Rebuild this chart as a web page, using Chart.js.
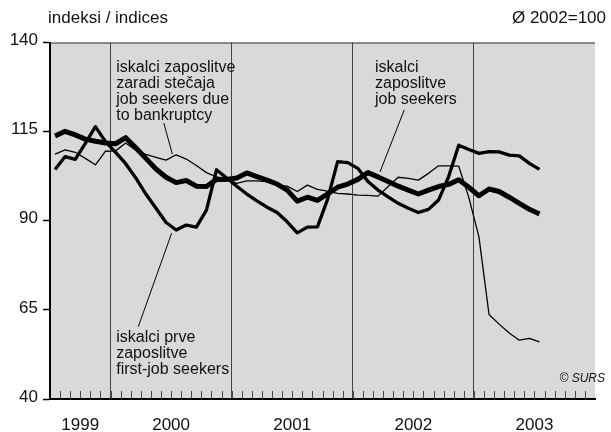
<!DOCTYPE html>
<html>
<head>
<meta charset="utf-8">
<title>Iskalci zaposlitve - indeksi</title>
<script src="https://cdn.jsdelivr.net/npm/chart.js"></script>
<style>
    body { margin: 0; padding: 0; background: #fff; }
    #wrap { width: 611px; height: 432px; }
</style>
</head>
<body>
<div id="wrap"><canvas id="chart"></canvas></div>
<script>
    // meseci (od julija 1999 do julija 2003)
    var months = [
        '1999-07','1999-08','1999-09','1999-10','1999-11','1999-12',
        '2000-01','2000-02','2000-03','2000-04','2000-05','2000-06','2000-07','2000-08','2000-09','2000-10','2000-11','2000-12',
        '2001-01','2001-02','2001-03','2001-04','2001-05','2001-06','2001-07','2001-08','2001-09','2001-10','2001-11','2001-12',
        '2002-01','2002-02','2002-03','2002-04','2002-05','2002-06','2002-07','2002-08','2002-09','2002-10','2002-11','2002-12',
        '2003-01','2003-02','2003-03','2003-04','2003-05','2003-06','2003-07'
    ];
    var years = ['1999', '2000', '2001', '2002', '2003'];
    var yTicks = [40, 65, 90, 115, 140];
    var axisStart = '1999-07';
    var axisMonths = 54; // do konca 2003

    // iskalci zaposlitve / job seekers
    var jobSeekers = [
        113.8, 115.1, 114.1, 112.9, 112.3, 111.8,
        111.6, 113.3, 110.5, 107.5, 104.5, 102.2, 100.7, 101.3, 99.7, 99.6, 101.6, 101.6,
        102.0, 103.4, 102.4, 101.4, 100.3, 98.6, 95.5, 96.6, 95.7, 97.5, 99.4, 100.3,
        101.6, 103.5, 102.3, 101.0, 99.7, 98.6, 97.5, 98.6, 99.6, 100.2, 101.5, 99.4,
        97.0, 98.9, 98.2, 96.6, 94.9, 93.2, 91.9
    ];
    // iskalci prve zaposlitve / first-job seekers
    var firstJob = [
        104.4, 108.0, 107.2, 111.7, 116.4, 112.2,
        109.2, 106.0, 102.0, 97.5, 93.5, 89.5, 87.4, 88.8, 88.2, 93.0, 104.3, 102.0,
        99.7, 97.5, 95.6, 93.8, 92.3, 89.7, 86.6, 88.2, 88.3, 96.0, 106.6, 106.3,
        104.7, 101.0, 98.6, 96.7, 94.9, 93.5, 92.3, 93.2, 95.8, 102.4, 111.2, 110.0,
        108.9, 109.4, 109.3, 108.4, 108.2, 106.1, 104.4
    ];
    // iskalci zaposlitve zaradi stecaja / job seekers due to bankruptcy
    var bankruptcy = [
        108.7, 109.9, 109.2, 107.5, 105.7, 109.5,
        109.6, 111.8, 109.8, 108.6, 107.8, 107.0, 108.5, 107.3, 105.5, 103.5, 102.3, 101.8,
        100.5, 101.2, 101.2, 101.0, 100.0, 99.7, 98.2, 100.0, 98.8, 98.3, 97.7, 97.5,
        97.2, 97.1, 96.9, 99.6, 102.2, 101.9, 101.4, 103.3, 105.4, 105.4, 105.3, 96.5,
        85.5, 63.7, 61.0, 58.5, 56.5, 57.0, 56.0
    ];

    function monthIndex(s) {
        var a = s.split('-'), b = axisStart.split('-');
        return (+a[0] - +b[0]) * 12 + (+a[1] - +b[1]);
    }
    function toPoints(values) {
        return values.map(function (v, i) { return { x: monthIndex(months[i]) + 0.5, y: v }; });
    }

    // meje let in sredine let na osi x
    var yearBounds = {}, yearMid = {};
    years.forEach(function (y) {
        var s = Math.max(0, monthIndex(y + '-01'));
        var e = Math.min(axisMonths, monthIndex(y + '-12') + 1);
        if (s > 0) yearBounds[s] = true;
        yearMid[(s + e) / 2] = y;
    });

    var FONT = "'Liberation Sans', Arial, Helvetica, sans-serif";

    // napisi ob crtah (v koordinatah podatkov)
    var notes = [
        { x: 6.56, y: 133.1, lines: ['iskalci zaposlitve', 'zaradi stečaja', 'job seekers due', 'to bankruptcy'],
          from: [11.28, 117.4], to: [12.12, 108.7] },
        { x: 32.2, y: 133.1, lines: ['iskalci', 'zaposlitve', 'job seekers'],
          from: [35.1, 121.1], to: [32.7, 103.7] },
        { x: 6.56, y: 57.2, lines: ['iskalci prve', 'zaposlitve', 'first-job seekers'],
          from: [8.75, 60.3], to: [12.05, 86.5] }
    ];

    var decor = {
        id: 'decor',
        beforeDraw: function (chart) {
            var c = chart.ctx, a = chart.chartArea;
            c.save();
            c.fillStyle = '#d9d9d9';
            c.fillRect(a.left, a.top, a.right - a.left, a.bottom - a.top);
            c.restore();
        },
        afterDraw: function (chart) {
            var c = chart.ctx, a = chart.chartArea;
            var xs = chart.scales.x, ys = chart.scales.y;
            c.save();
            // zgornji rob
            c.strokeStyle = '#333';
            c.lineWidth = 1;
            c.beginPath();
            c.moveTo(a.left, a.top + 0.5);
            c.lineTo(a.right, a.top + 0.5);
            c.stroke();
            // meseci - kratke crtice
            c.strokeStyle = '#444';
            c.beginPath();
            for (var m = 1; m < axisMonths; m++) {
                var px = Math.round(xs.getPixelForValue(m)) + 0.5;
                c.moveTo(px, a.bottom);
                c.lineTo(px, a.bottom - 8);
            }
            c.stroke();
            // napisi
            c.fillStyle = '#111';
            c.font = '16px ' + FONT;
            c.textBaseline = 'middle';
            c.textAlign = 'left';
            notes.forEach(function (n) {
                var x0 = xs.getPixelForValue(n.x), y0 = ys.getPixelForValue(n.y);
                n.lines.forEach(function (t, i) { c.fillText(t, x0, y0 + i * 16); });
                c.beginPath();
                c.strokeStyle = '#000';
                c.lineWidth = 1;
                c.moveTo(xs.getPixelForValue(n.from[0]), ys.getPixelForValue(n.from[1]));
                c.lineTo(xs.getPixelForValue(n.to[0]), ys.getPixelForValue(n.to[1]));
                c.stroke();
            });
            // naslov enot in osnova
            c.font = '17px ' + FONT;
            c.textBaseline = 'alphabetic';
            c.fillText('indeksi / indices', 48, 23);
            c.textAlign = 'right';
            c.fillText('Ø 2002=100', 606, 23);
            c.font = 'italic 12px ' + FONT;
            c.textBaseline = 'middle';
            c.fillText('© SURS', 605, 379);
            c.restore();
        }
    };

    var ctx = document.getElementById('chart').getContext('2d');
    new Chart(ctx, {
        type: 'line',
        data: {
            datasets: [
                { label: 'iskalci zaposlitve', data: toPoints(jobSeekers), borderColor: '#000', borderWidth: 5 },
                { label: 'iskalci prve zaposlitve', data: toPoints(firstJob), borderColor: '#000', borderWidth: 3.3 },
                { label: 'iskalci zaposlitve zaradi stečaja', data: toPoints(bankruptcy), borderColor: '#000', borderWidth: 1.3 }
            ]
        },
        options: {
            responsive: true,
            maintainAspectRatio: false,
            animation: false,
            devicePixelRatio: 1,
            elements: {
                point: { radius: 0 },
                line: { tension: 0, borderJoinStyle: 'round', fill: false }
            },
            layout: { padding: { top: 42.5, right: 1, left: 0, bottom: 0 } },
            plugins: { legend: { display: false }, tooltip: { enabled: false } },
            scales: {
                x: {
                    type: 'linear',
                    min: 0,
                    max: axisMonths,
                    afterBuildTicks: function (s) {
                        var t = [];
                        for (var i = 0; i <= axisMonths; i++) t.push({ value: i });
                        s.ticks = t;
                    },
                    afterFit: function (s) { s.height = 33; },
                    ticks: {
                        autoSkip: false,
                        maxRotation: 0,
                        padding: 16,
                        color: '#111',
                        font: { family: FONT, size: 17 },
                        callback: function (v) { return yearMid[v] || ''; }
                    },
                    grid: {
                        drawTicks: false,
                        lineWidth: 1,
                        color: function (c) { return c.tick && yearBounds[c.tick.value] ? '#444' : 'rgba(0,0,0,0)'; }
                    },
                    border: { display: true, color: '#000', width: 2 }
                },
                y: {
                    min: 40,
                    max: 140,
                    afterBuildTicks: function (s) { s.ticks = yTicks.map(function (v) { return { value: v }; }); },
                    afterFit: function (s) { s.width = 50; },
                    ticks: {
                        padding: 5,
                        labelOffset: -2,
                        color: '#111',
                        font: { family: FONT, size: 17 }
                    },
                    grid: {
                        drawOnChartArea: false,
                        drawTicks: true,
                        tickLength: 7,
                        tickColor: '#000',
                        tickWidth: 1.5
                    },
                    border: { display: true, color: '#000', width: 2 }
                }
            }
        },
        plugins: [decor]
    });
</script>
</body>
</html>
